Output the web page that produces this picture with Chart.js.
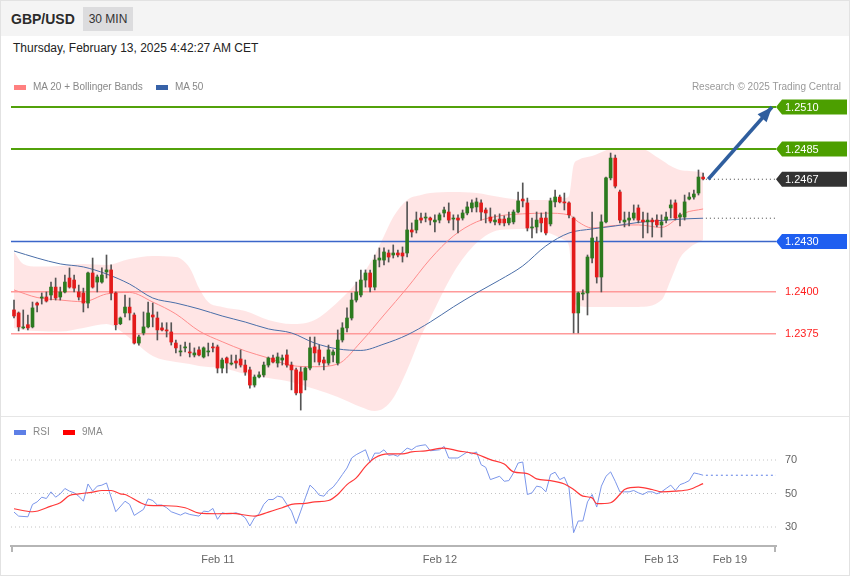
<!DOCTYPE html>
<html>
<head>
<meta charset="utf-8">
<title>GBP/USD 30 MIN</title>
<script src="https://cdn.jsdelivr.net/npm/chart.js@4.4.1/dist/chart.umd.min.js"></script>
<style>
  html, body { margin: 0; padding: 0; background: #fff; }
  #wrap { position: relative; width: 850px; height: 576px; overflow: hidden; background: #fff;
          font-family: "Liberation Sans", Arial, Helvetica, sans-serif; }
  #hdr { position: absolute; left: 0; top: 0; width: 850px; height: 36px; background: #f4f4f4; }
  #sym { position: absolute; left: 11px; top: 10px; font-size: 14px; font-weight: bold; color: #2b2b2b; line-height: 18px; }
  #tf { position: absolute; left: 83px; top: 7px; width: 50px; height: 24px; line-height: 24px; text-align: center;
        font-size: 12px; color: #333; background: #dcdcde; }
  #date { position: absolute; left: 13px; top: 41px; font-size: 12px; line-height: 14px; color: #222; }
  .leg { position: absolute; font-size: 10px; line-height: 12px; color: #888; white-space: nowrap; z-index: 2; }
  .sw { position: absolute; width: 12px; height: 5px; z-index: 2; }
  canvas { position: absolute; left: 0; }
  #main { top: 0; }
  #rsi { top: 416px; }
  #sep { position: absolute; left: 0; top: 416px; width: 850px; height: 1px; background: #e6e6e6; }
  #frame { position: absolute; left: 0; top: 0; width: 848px; height: 574px; border: 1px solid #e2e2e2; pointer-events: none; z-index: 5; }
</style>
</head>
<body>
<div id="wrap">
  <div id="hdr"><span id="sym">GBP/USD</span><span id="tf">30 MIN</span></div>
  <div id="date">Thursday, February 13, 2025 4:42:27 AM CET</div>
  <canvas id="main" width="850" height="416"></canvas>
  <div class="sw" style="left:14px;top:85px;background:#ff8080"></div>
  <div class="leg" style="left:33px;top:81px">MA 20 + Bollinger Bands</div>
  <div class="sw" style="left:156px;top:85px;background:#3762a8"></div>
  <div class="leg" style="left:175px;top:81px">MA 50</div>
  <div class="leg" style="right:9px;top:81px;color:#999">Research © 2025 Trading Central</div>
  <div id="sep"></div>
  <canvas id="rsi" width="850" height="160"></canvas>
  <div class="sw" style="left:14px;top:430px;background:#5d7fe6"></div>
  <div class="leg" style="left:33px;top:426px">RSI</div>
  <div class="sw" style="left:63px;top:430px;background:#f00"></div>
  <div class="leg" style="left:82px;top:426px">9MA</div>
  <div id="frame"></div>
</div>

<script>
// ─── Data (30 min candles, index 0 = first bar on the chart) ─────

const OPEN = [
  1.23892, 1.23874, 1.23785, 1.23804, 1.23791, 1.23933, 1.23963, 1.23969, 1.23981, 1.24028,
  1.23969, 1.23999, 1.24082, 1.24070, 1.23999, 1.23993, 1.23933, 1.24112, 1.24058, 1.24058,
  1.24118, 1.24130, 1.23993, 1.23810, 1.23874, 1.23909, 1.23862, 1.23695, 1.23755, 1.23791,
  1.23862, 1.23844, 1.23785, 1.23773, 1.23761, 1.23695, 1.23642, 1.23666, 1.23642, 1.23624,
  1.23654, 1.23612, 1.23642, 1.23672, 1.23672, 1.23546, 1.23606, 1.23570, 1.23588, 1.23600,
  1.23564, 1.23535, 1.23445, 1.23493, 1.23505, 1.23564, 1.23606, 1.23576, 1.23594, 1.23624,
  1.23564, 1.23535, 1.23523, 1.23475, 1.23546, 1.23672, 1.23654, 1.23594, 1.23576, 1.23624,
  1.23576, 1.23713, 1.23785, 1.23844, 1.23951, 1.23981, 1.24070, 1.24112, 1.24028, 1.24189,
  1.24189, 1.24231, 1.24219, 1.24231, 1.24231, 1.24231, 1.24368, 1.24368, 1.24439, 1.24439,
  1.24439, 1.24416, 1.24427, 1.24469, 1.24475, 1.24433, 1.24439, 1.24439, 1.24469, 1.24499,
  1.24505, 1.24529, 1.24487, 1.24445, 1.24416, 1.24433, 1.24433, 1.24410, 1.24416, 1.24475,
  1.24552, 1.24529, 1.24380, 1.24386, 1.24439, 1.24439, 1.24404, 1.24535, 1.24564, 1.24535,
  1.24529, 1.24439, 1.23874, 1.23987, 1.23993, 1.24201, 1.24296, 1.24088, 1.24416, 1.24678,
  1.24796, 1.24594, 1.24416, 1.24427, 1.24439, 1.24499, 1.24427, 1.24416, 1.24427, 1.24427,
  1.24398, 1.24427, 1.24499, 1.24529, 1.24445, 1.24445, 1.24552, 1.24564, 1.24588, 1.24683
];
const HIGH = [
  1.23951, 1.23880, 1.23892, 1.23862, 1.23939, 1.23939, 1.23993, 1.23999, 1.24058, 1.24082,
  1.24028, 1.24100, 1.24142, 1.24100, 1.24040, 1.24022, 1.24118, 1.24201, 1.24100, 1.24142,
  1.24219, 1.24160, 1.23999, 1.23850, 1.23981, 1.23963, 1.23874, 1.23743, 1.23880, 1.23939,
  1.23933, 1.23880, 1.23816, 1.23816, 1.23816, 1.23713, 1.23683, 1.23701, 1.23695, 1.23666,
  1.23672, 1.23672, 1.23695, 1.23695, 1.23683, 1.23606, 1.23612, 1.23624, 1.23624, 1.23654,
  1.23594, 1.23552, 1.23505, 1.23523, 1.23582, 1.23612, 1.23624, 1.23636, 1.23624, 1.23654,
  1.23582, 1.23546, 1.23552, 1.23552, 1.23731, 1.23731, 1.23683, 1.23612, 1.23683, 1.23654,
  1.23773, 1.23816, 1.23904, 1.23993, 1.24058, 1.24130, 1.24130, 1.24130, 1.24219, 1.24261,
  1.24261, 1.24249, 1.24279, 1.24249, 1.24267, 1.24535, 1.24410, 1.24475, 1.24469, 1.24469,
  1.24445, 1.24458, 1.24469, 1.24505, 1.24529, 1.24458, 1.24458, 1.24487, 1.24535, 1.24547,
  1.24558, 1.24547, 1.24499, 1.24499, 1.24458, 1.24464, 1.24452, 1.24475, 1.24487, 1.24594,
  1.24648, 1.24558, 1.24439, 1.24475, 1.24469, 1.24475, 1.24558, 1.24606, 1.24576, 1.24588,
  1.24535, 1.24445, 1.23999, 1.24011, 1.24219, 1.24475, 1.24326, 1.24458, 1.24683, 1.24826,
  1.24814, 1.24606, 1.24475, 1.24475, 1.24517, 1.24517, 1.24475, 1.24469, 1.24439, 1.24458,
  1.24458, 1.24475, 1.24547, 1.24547, 1.24469, 1.24576, 1.24590, 1.24606, 1.24725, 1.24707
];
const LOW = [
  1.23844, 1.23767, 1.23779, 1.23773, 1.23785, 1.23880, 1.23927, 1.23939, 1.23951, 1.23951,
  1.23951, 1.23993, 1.24022, 1.23999, 1.23951, 1.23880, 1.23904, 1.24022, 1.23999, 1.24052,
  1.24082, 1.23951, 1.23773, 1.23804, 1.23850, 1.23832, 1.23689, 1.23683, 1.23743, 1.23785,
  1.23791, 1.23713, 1.23767, 1.23731, 1.23683, 1.23636, 1.23618, 1.23642, 1.23612, 1.23612,
  1.23618, 1.23606, 1.23618, 1.23642, 1.23517, 1.23517, 1.23517, 1.23564, 1.23546, 1.23552,
  1.23503, 1.23427, 1.23433, 1.23487, 1.23493, 1.23552, 1.23576, 1.23552, 1.23564, 1.23552,
  1.23416, 1.23386, 1.23296, 1.23416, 1.23535, 1.23582, 1.23564, 1.23535, 1.23564, 1.23582,
  1.23564, 1.23701, 1.23761, 1.23832, 1.23939, 1.23969, 1.24028, 1.23999, 1.24011, 1.24148,
  1.24160, 1.24177, 1.24201, 1.24207, 1.24177, 1.24207, 1.24326, 1.24350, 1.24410, 1.24416,
  1.24398, 1.24356, 1.24410, 1.24445, 1.24410, 1.24368, 1.24350, 1.24427, 1.24458, 1.24475,
  1.24475, 1.24427, 1.24410, 1.24410, 1.24398, 1.24398, 1.24392, 1.24398, 1.24404, 1.24469,
  1.24505, 1.24362, 1.24320, 1.24350, 1.24356, 1.24338, 1.24392, 1.24505, 1.24529, 1.24487,
  1.24439, 1.23755, 1.23755, 1.23951, 1.23862, 1.24172, 1.24052, 1.23999, 1.24410, 1.24666,
  1.24618, 1.24410, 1.24386, 1.24392, 1.24427, 1.24410, 1.24320, 1.24350, 1.24326, 1.24386,
  1.24326, 1.24410, 1.24439, 1.24427, 1.24392, 1.24427, 1.24547, 1.24552, 1.24576, 1.24666
];
const CLOSE = [
  1.23856, 1.23791, 1.23791, 1.23785, 1.23904, 1.23921, 1.23969, 1.23945, 1.24028, 1.23963,
  1.23999, 1.24058, 1.24028, 1.24022, 1.23969, 1.23933, 1.24112, 1.24028, 1.24088, 1.24100,
  1.24130, 1.23993, 1.23804, 1.23844, 1.23909, 1.23874, 1.23695, 1.23731, 1.23791, 1.23874,
  1.23850, 1.23773, 1.23773, 1.23767, 1.23701, 1.23666, 1.23648, 1.23672, 1.23636, 1.23636,
  1.23624, 1.23666, 1.23648, 1.23666, 1.23546, 1.23594, 1.23576, 1.23576, 1.23576, 1.23564,
  1.23522, 1.23445, 1.23493, 1.23505, 1.23564, 1.23606, 1.23582, 1.23612, 1.23606, 1.23564,
  1.23535, 1.23398, 1.23398, 1.23546, 1.23666, 1.23636, 1.23582, 1.23576, 1.23654, 1.23642,
  1.23713, 1.23785, 1.23844, 1.23951, 1.23999, 1.24070, 1.24112, 1.24028, 1.24189, 1.24201,
  1.24237, 1.24207, 1.24231, 1.24219, 1.24213, 1.24368, 1.24356, 1.24427, 1.24427, 1.24445,
  1.24427, 1.24427, 1.24458, 1.24487, 1.24427, 1.24439, 1.24427, 1.24469, 1.24505, 1.24529,
  1.24535, 1.24475, 1.24469, 1.24421, 1.24427, 1.24410, 1.24410, 1.24439, 1.24475, 1.24541,
  1.24541, 1.24380, 1.24386, 1.24427, 1.24410, 1.24350, 1.24541, 1.24564, 1.24535, 1.24529,
  1.24458, 1.23874, 1.23993, 1.23993, 1.24207, 1.24320, 1.24088, 1.24416, 1.24678, 1.24796,
  1.24629, 1.24427, 1.24427, 1.24439, 1.24469, 1.24427, 1.24416, 1.24427, 1.24416, 1.24398,
  1.24416, 1.24445, 1.24517, 1.24439, 1.24458, 1.24535, 1.24564, 1.24582, 1.24683, 1.24672
];

// indicator lines, read at sample bars
const MA20_IDX = [0, 5, 10, 15, 20, 25, 30, 35, 40, 45, 50, 55, 60, 65, 70, 75, 80, 85, 90, 95,
                  100, 105, 110, 115, 120, 122, 125, 130, 135, 140, 145, 149];
const MA20 = [1.24011, 1.23966, 1.23951, 1.23941, 1.23987, 1.23996, 1.23939, 1.23868, 1.23767, 1.23703,
              1.23648, 1.23606, 1.23561, 1.23554, 1.23570, 1.23701, 1.23862, 1.24023, 1.24195, 1.24332,
              1.24416, 1.24452, 1.24464, 1.24468, 1.24458, 1.24416, 1.24380, 1.24395, 1.24398, 1.24383,
              1.24469, 1.24493];
const MA50_IDX = [0, 5, 10, 15, 20, 25, 30, 35, 40, 45, 50, 55, 60, 65, 70, 75, 80, 85, 90, 95,
                  100, 105, 110, 115, 120, 125, 130, 135, 140, 145, 149];
const MA50 = [1.24243, 1.24201, 1.24166, 1.24148, 1.24106, 1.24046, 1.23963, 1.23933, 1.23898, 1.23856,
              1.23820, 1.23779, 1.23755, 1.23695, 1.23660, 1.23651, 1.23689, 1.23743, 1.23820, 1.23910,
              1.23993, 1.24070, 1.24154, 1.24273, 1.24350, 1.24374, 1.24392, 1.24413, 1.24425, 1.24434,
              1.24438];
const BB_IDX = [0, 2, 5, 10, 15, 20, 25, 30, 35, 38, 40, 42, 45, 50, 55, 60, 65, 70, 75, 78,
                80, 82, 85, 88, 90, 95, 100, 105, 110, 115, 119, 120, 121, 122, 125, 130, 135, 140, 142, 144,
                146, 149];
const BB_UPPER = [1.24237, 1.24166, 1.24151, 1.24154, 1.24166, 1.24160, 1.24195, 1.24213, 1.24207, 1.24142,
                  1.24023, 1.23939, 1.23910, 1.23886, 1.23832, 1.23808, 1.23832, 1.23939, 1.24088, 1.24219,
                  1.24332, 1.24445, 1.24547, 1.24576, 1.24588, 1.24594, 1.24588, 1.24564, 1.24547, 1.24547,
                  1.24558, 1.24570, 1.24755, 1.24785, 1.24808, 1.24856, 1.24856, 1.24785, 1.24749, 1.24725,
                  1.24719, 1.24713];
const BB_LOWER = [1.23785, 1.23773, 1.23767, 1.23763, 1.23785, 1.23808, 1.23725, 1.23618, 1.23582, 1.23570,
                  1.23558, 1.23552, 1.23546, 1.23511, 1.23487, 1.23463, 1.23421, 1.23374, 1.23314, 1.23290,
                  1.23308, 1.23368, 1.23535, 1.23737, 1.23844, 1.24112, 1.24290, 1.24368, 1.24374, 1.24356,
                  1.24308, 1.24273, 1.23951, 1.23916, 1.23910, 1.23910, 1.23910, 1.23951, 1.24070, 1.24201,
                  1.24261, 1.24308];

// RSI panel
const RSI_IDX = [0, 1, 3, 4, 5, 6, 7, 8, 9, 10, 11, 12, 13, 14, 15, 16, 17, 18, 19, 20,
                 22, 24, 25, 26, 28, 29, 30, 31, 32, 33, 34, 36, 37, 38, 40, 41, 42, 43, 44, 45,
                 46, 47, 48, 49, 50, 51, 52, 53, 54, 55, 56, 57, 58, 59, 60, 61, 62, 63, 64, 65,
                 66, 67, 68, 69, 70, 71, 72, 73, 74, 76, 77, 78, 79, 80, 81, 82, 83, 85, 86, 87,
                 88, 89, 90, 92, 93, 94, 96, 98, 99, 100, 101, 102, 103, 105, 106, 107, 108, 109, 110, 111,
                 112, 113, 114, 115, 116, 117, 118, 119, 120, 121, 122, 123, 124, 125, 126, 127, 128, 129, 130, 131,
                 132, 133, 134, 135, 136, 137, 138, 139, 140, 141, 142, 143, 144, 145, 146, 147, 148, 149];
const RSI = [38.9, 36.5, 36.1, 43.5, 45.0, 47.8, 47.0, 51.0, 47.8, 49.8, 53.0, 51.4, 50.4, 48.4, 45.4, 55.7, 51.4, 54.4, 55.0, 56.3,
             39.1, 45.4, 43.5, 36.9, 40.5, 46.8, 45.8, 43.1, 43.1, 41.5, 39.1, 37.1, 38.5, 37.5, 36.5, 39.5, 39.1, 41.1, 34.6, 38.5,
             37.9, 37.9, 38.5, 37.5, 35.5, 30.6, 35.5, 37.9, 43.5, 46.4, 46.4, 48.4, 47.8, 43.5, 39.5, 32.0, 39.5, 47.4, 55.0, 52.4,
             49.0, 48.4, 51.8, 53.8, 57.3, 61.3, 65.2, 71.2, 73.2, 76.1, 68.6, 74.1, 74.1, 76.1, 72.8, 73.2, 72.2, 77.1, 76.1, 78.1,
             78.7, 79.1, 75.5, 76.1, 78.1, 71.2, 71.2, 74.8, 73.6, 74.8, 67.2, 65.6, 58.3, 60.3, 57.3, 57.7, 62.3, 68.2, 68.8, 49.4,
             50.4, 54.4, 53.8, 51.0, 61.3, 62.7, 58.3, 59.7, 53.4, 26.6, 33.6, 33.6, 45.0, 49.4, 41.9, 54.4, 60.3, 62.9, 57.3, 51.0,
             51.0, 51.0, 51.8, 50.4, 49.4, 51.0, 51.0, 49.8, 51.0, 53.0, 55.0, 51.8, 55.3, 56.3, 57.7, 62.3, 61.7, 60.9];
const RSI_MA_IDX = [0, 4, 8, 10, 12, 14, 17, 19, 21, 23, 24, 27, 29, 33, 37, 40, 44, 47, 52, 55,
                    58, 60, 63, 65, 68, 70, 72, 74, 76, 78, 81, 84, 86, 89, 93, 96, 99, 100, 103, 106,
                    108, 111, 113, 116, 119, 121, 123, 125, 126, 129, 131, 132, 135, 138, 140, 143, 146, 149];
const RSI_MA = [40.9, 39.1, 42.5, 44.5, 48.8, 49.8, 50.8, 51.8, 51.8, 49.8, 49.4, 45.0, 42.9, 42.7, 41.5, 38.3, 37.9, 38.1, 36.5, 38.9,
                41.5, 43.5, 44.1, 45.0, 45.8, 49.4, 55.3, 59.3, 66.2, 71.2, 73.6, 73.6, 74.8, 75.5, 77.1, 75.5, 74.2, 73.6, 70.2, 67.6,
                62.9, 61.9, 58.7, 57.7, 55.7, 52.4, 48.4, 47.4, 43.9, 44.5, 49.4, 52.4, 53.8, 52.4, 51.0, 51.4, 52.4, 55.9];
const RSI_LEVELS = [30, 50, 70];

// levels and annotations
const RESIST = [1.2510, 1.2485];
const PIVOT = 1.2430;
const SUPPORT = [1.2400, 1.2375];
const LAST_PRICE = 1.2467;
const ARROW_FROM = [150.1, 1.2467];
const ARROW_TO = [163.9, 1.2510];

// x axis: bar index
const X_MIN = -0.65, X_MAX = 164.76;
const X_TICK_POS = [44.1, 92.1, 140.0, 154.8];
const X_TICK_LABELS = ['Feb 11', 'Feb 12', 'Feb 13', 'Feb 19'];
const P_MIN = 1.232726, P_MAX = 1.251714;
const R_MIN = 18.66, R_MAX = 80.15;

// ─── Styles ───────────────────────────────────────────────────────
const RED = '#e31b1b';
const GREEN = '#2c7a1f';
const WICK = '#555555';
const FONT = '"Liberation Sans", Arial, sans-serif';

function pts(idx, vals) {
  return idx.map((x, i) => ({ x: x, y: vals[i] }));
}

function hLine(value, color, width, dash, from, to, order) {
  return {
    type: 'line',
    data: [{ x: from === undefined ? X_MIN : from, y: value }, { x: to === undefined ? X_MAX : to, y: value }],
    borderColor: color,
    borderWidth: width,
    borderDash: dash || [],
    pointRadius: 0,
    order: order || 8
  };
}

// ─── Main price chart ────────────────────────────────────────────
const lastBar = OPEN.length - 1;

const tagPlugin = {
  id: 'tags',
  afterDatasetsDraw(chart) {
    const { ctx, chartArea, scales: { x, y } } = chart;

    // arrow head
    const x1 = x.getPixelForValue(ARROW_FROM[0]), y1 = y.getPixelForValue(ARROW_FROM[1]);
    const x2 = x.getPixelForValue(ARROW_TO[0]), y2 = y.getPixelForValue(ARROW_TO[1]);
    const ang = Math.atan2(y2 - y1, x2 - x1);
    ctx.save();
    ctx.fillStyle = '#2f5e9e';
    ctx.beginPath();
    ctx.moveTo(x2, y2);
    ctx.lineTo(x2 - 15 * Math.cos(ang) + 6 * Math.sin(ang), y2 - 15 * Math.sin(ang) - 6 * Math.cos(ang));
    ctx.lineTo(x2 - 15 * Math.cos(ang) - 6 * Math.sin(ang), y2 - 15 * Math.sin(ang) + 6 * Math.cos(ang));
    ctx.closePath();
    ctx.fill();

    // price tags on the right
    const tags = [
      { v: RESIST[0], bg: '#4c9f00' },
      { v: RESIST[1], bg: '#4c9f00' },
      { v: LAST_PRICE, bg: '#333333' },
      { v: PIVOT, bg: '#1f5ff0' }
    ];
    const x0 = chartArea.right;
    ctx.font = '11px ' + FONT;
    ctx.textBaseline = 'middle';
    tags.forEach(t => {
      const py = y.getPixelForValue(t.v);
      ctx.fillStyle = t.bg;
      ctx.beginPath();
      ctx.moveTo(x0, py);
      ctx.lineTo(x0 + 6, py - 7.5);
      ctx.lineTo(x0 + 71, py - 7.5);
      ctx.lineTo(x0 + 71, py + 7.5);
      ctx.lineTo(x0 + 6, py + 7.5);
      ctx.closePath();
      ctx.fill();
      ctx.fillStyle = '#fff';
      ctx.fillText(t.v.toFixed(4), x0 + 9, py + 0.5);
    });
    SUPPORT.forEach(v => {
      ctx.fillStyle = '#ff1f1f';
      ctx.fillText(v.toFixed(4), x0 + 9, y.getPixelForValue(v) + 0.5);
    });
    ctx.restore();
  }
};

new Chart(document.getElementById('main'), {
  type: 'bar',
  data: {
    datasets: [
      {
        type: 'line', data: pts(BB_IDX, BB_UPPER), borderWidth: 0, pointRadius: 0,
        backgroundColor: 'rgba(255, 40, 40, 0.12)', fill: '+1', cubicInterpolationMode: 'monotone', order: 12
      },
      {
        type: 'line', data: pts(BB_IDX, BB_LOWER), borderWidth: 0, pointRadius: 0,
        fill: false, cubicInterpolationMode: 'monotone', order: 12
      },
      hLine(RESIST[0], '#52a10a', 2),
      hLine(RESIST[1], '#52a10a', 2),
      hLine(PIVOT, '#3b66c9', 1.5),
      hLine(SUPPORT[0], '#ff9a9a', 1.5),
      hLine(SUPPORT[1], '#ff9a9a', 1.5),
      hLine(LAST_PRICE, '#444', 1, [1, 3], lastBar + 0.6, X_MAX, 6),
      hLine(MA50[MA50.length - 1], '#444', 1, [1, 3], lastBar + 0.6, X_MAX, 6),
      {
        type: 'line', data: pts(MA50_IDX, MA50), borderColor: '#4a6ea8', borderWidth: 1,
        pointRadius: 0, cubicInterpolationMode: 'monotone', order: 6
      },
      {
        type: 'line', data: pts(MA20_IDX, MA20), borderColor: '#ff8c8c', borderWidth: 1,
        pointRadius: 0, cubicInterpolationMode: 'monotone', order: 6
      },
      {
        data: LOW.map((l, i) => ({ x: i, y: [l, HIGH[i]] })),
        backgroundColor: WICK, barThickness: 1, grouped: false, order: 4
      },
      {
        data: OPEN.map((o, i) => ({ x: i, y: [o, CLOSE[i]] })),
        backgroundColor: OPEN.map((o, i) => CLOSE[i] >= o ? GREEN : RED),
        barThickness: 3, minBarLength: 1, grouped: false, order: 3
      },
      {
        type: 'line', data: [{ x: ARROW_FROM[0], y: ARROW_FROM[1] }, { x: ARROW_TO[0], y: ARROW_TO[1] }],
        borderColor: '#2f5e9e', borderWidth: 3.5, pointRadius: 0, order: 1
      }
    ]
  },
  options: {
    responsive: false,
    animation: false,
    devicePixelRatio: 1,
    layout: { padding: { left: 11, right: 74, top: 95, bottom: 2 } },
    plugins: { legend: { display: false }, tooltip: { enabled: false } },
    scales: {
      x: { type: 'linear', display: false, min: X_MIN, max: X_MAX, offset: false },
      y: { display: false, min: P_MIN, max: P_MAX }
    }
  },
  plugins: [tagPlugin]
});

// ─── RSI chart ───────────────────────────────────────────────────
const axisEnds = {
  id: 'axisEnds',
  afterDraw(chart) {
    const { ctx, chartArea } = chart;
    ctx.save();
    ctx.strokeStyle = '#b5b5b5';
    ctx.lineWidth = 2;
    [chartArea.left + 1, chartArea.right - 1].forEach(px => {
      ctx.beginPath();
      ctx.moveTo(px, chartArea.bottom);
      ctx.lineTo(px, chartArea.bottom + 6);
      ctx.stroke();
    });
    ctx.restore();
  }
};

new Chart(document.getElementById('rsi'), {
  type: 'line',
  data: {
    datasets: [
      ...RSI_LEVELS.map(v => hLine(v, '#c4c4c4', 1, [1, 3], X_MIN, X_MAX, 8)),
      hLine(RSI[RSI.length - 1], '#5d7fe6', 1, [2, 3], lastBar + 0.6, X_MAX, 6),
      {
        data: pts(RSI_IDX, RSI), borderColor: '#7b96ea', borderWidth: 1, pointRadius: 0, order: 5
      },
      {
        data: pts(RSI_MA_IDX, RSI_MA), borderColor: '#ff3838', borderWidth: 1.2, pointRadius: 0,
        cubicInterpolationMode: 'monotone', order: 4
      }
    ]
  },
  options: {
    responsive: false,
    animation: false,
    devicePixelRatio: 1,
    layout: { padding: { left: 11, right: 0, top: 27, bottom: 0 } },
    plugins: { legend: { display: false }, tooltip: { enabled: false } },
    scales: {
      x: {
        type: 'linear', min: X_MIN, max: X_MAX, offset: false,
        grid: { display: false, drawTicks: false },
        border: { display: true, color: '#b5b5b5', width: 2 },
        ticks: {
          autoSkip: false, maxRotation: 0, padding: 7, color: '#666',
          font: { size: 11, family: FONT },
          callback: (v, i) => X_TICK_LABELS[i]
        },
        afterBuildTicks: s => { s.ticks = X_TICK_POS.map(v => ({ value: v })); },
        afterFit: s => { s.height = 30; }
      },
      y: {
        position: 'right', min: R_MIN, max: R_MAX,
        grid: { display: false, drawTicks: false },
        border: { display: false },
        ticks: { padding: 9, color: '#666', font: { size: 11, family: FONT } },
        afterBuildTicks: s => { s.ticks = RSI_LEVELS.map(v => ({ value: v })); },
        afterFit: s => { s.width = 74; }
      }
    }
  },
  plugins: [axisEnds]
});
</script>
</body>
</html>
